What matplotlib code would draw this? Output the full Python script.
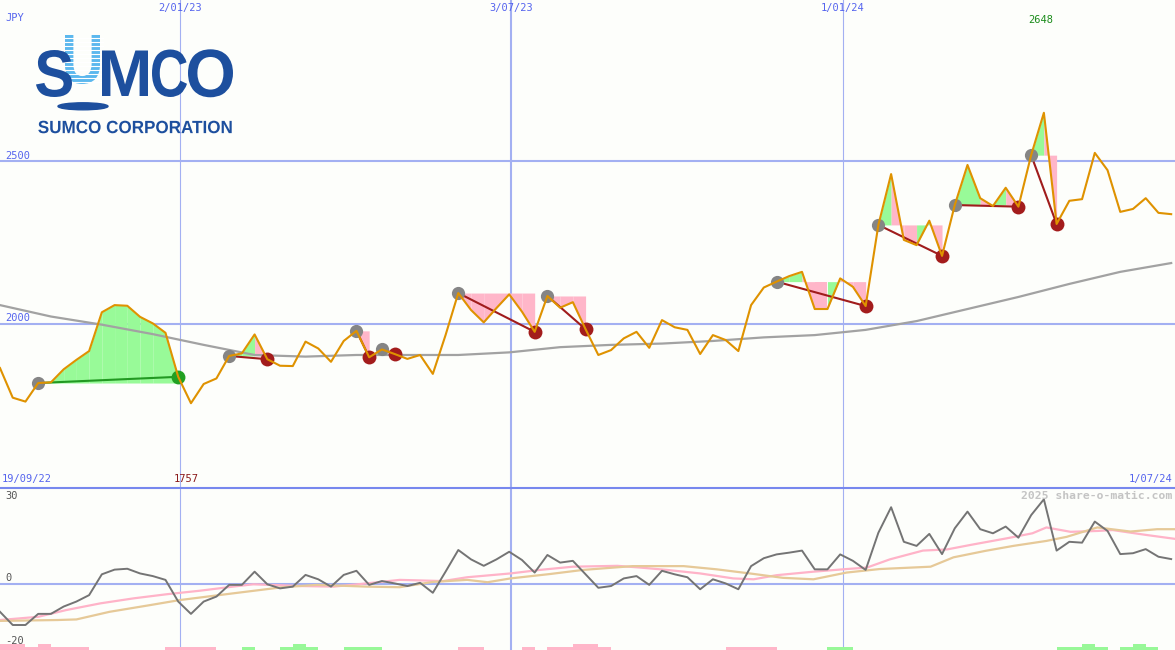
import numpy as np
import matplotlib.pyplot as plt
from matplotlib.patches import Ellipse, PathPatch
from matplotlib.lines import Line2D
from matplotlib.textpath import TextPath
from matplotlib.font_manager import FontProperties
from matplotlib.transforms import Affine2D

W, H = 1175, 650

# weekly closing price, JPY (19/09/22 .. 1/07/24)
price = [1865, 1774, 1762, 1819, 1821, 1861, 1890, 1917, 2036, 2058,
         2056, 2022, 2002, 1973, 1838, 1757, 1816, 1833, 1902, 1910,
         1968, 1892, 1872, 1871, 1946, 1925, 1884, 1948, 1979, 1898,
         1922, 1908, 1893, 1905, 1847, 1966, 2095, 2043, 2005, 2049,
         2091, 2038, 1976, 2086, 2050, 2067, 1984, 1905, 1920, 1956,
         1976, 1927, 2012, 1990, 1982, 1908, 1966, 1951, 1917, 2058,
         2112, 2130, 2147, 2160, 2046, 2046, 2140, 2114, 2055, 2304,
         2460, 2258, 2242, 2317, 2209, 2365, 2488, 2386, 2362, 2418,
         2360, 2518, 2648, 2307, 2378, 2383, 2525, 2472, 2344, 2353,
         2386, 2341, 2337]

# long moving average (gray), read at a few weeks
ma_week = [0, 4, 8, 12, 16, 20, 24, 28, 32, 36, 40, 44, 48, 52, 56, 60,
           64, 68, 72, 76, 80, 84, 88, 92]
ma_val = [2058, 2023, 1998, 1969, 1936, 1905, 1900, 1905, 1905, 1905,
          1913, 1929, 1936, 1940, 1948, 1959, 1966, 1982, 2009, 2046,
          2083, 2123, 2160, 2187]

# trades: (start week, end week)
trades = [(3, 14), (18, 21), (28, 29), (30, 31), (36, 42), (43, 46),
          (61, 68), (69, 74), (75, 80), (81, 83)]

# lower panel oscillator
osc = [-9.6, -14.1, -14.1, -10.3, -10.3, -7.8, -6.1, -3.9, 3.2, 4.8,
       5.1, 3.5, 2.6, 1.3, -6.1, -10.3, -6.1, -4.4, -0.4, -0.4,
       4.1, -0.2, -1.6, -1.0, 3.0, 1.5, -1.0, 3.0, 4.4, -0.4,
       0.9, 0.1, -0.8, 0.3, -3.1, 4.1, 11.5, 8.3, 6.1, 8.3,
       10.9, 8.1, 3.8, 9.8, 7.2, 7.8, 3.2, -1.4, -0.8, 1.8,
       2.6, -0.4, 4.4, 3.2, 2.2, -1.9, 1.5, 0.1, -1.9, 6.0,
       8.7, 10.0, 10.6, 11.3, 4.9, 4.9, 10.0, 7.8, 4.7, 17.4,
       26.1, 14.3, 12.9, 17.0, 10.1, 18.9, 24.6, 18.6, 17.2, 19.5,
       15.7, 23.4, 28.8, 11.3, 14.3, 14.0, 21.2, 18.0, 10.1, 10.4,
       11.8, 9.2, 8.4]

pink_week = [0, 3, 5.2, 7.9, 10.5, 13.1, 15.7, 18.3, 19.9, 23.6, 26.2,
             28.8, 31.4, 34.8, 36.7, 40.1, 42.4, 45, 48.5, 50.3, 52.4,
             55, 57.6, 59.2, 61, 63.9, 66.5, 68.1, 69.9, 72.5, 74.4,
             76.2, 79.1, 81.1, 82.2, 84.1, 86.2, 87.4, 90.1, 92.3]
pink_val = [-12.4, -11.3, -9.0, -6.7, -5.0, -3.6, -2.4, -1.0, -0.2, -0.8,
            -1.0, 0.1, 1.3, 0.9, 2.2, 3.5, 4.7, 5.8, 6.1, 5.5, 4.7,
            3.5, 1.8, 1.5, 2.9, 4.1, 5.0, 5.5, 8.3, 11.3, 11.7,
            13.2, 15.5, 17.2, 19.2, 17.7, 18.0, 18.3, 16.6, 15.3]

tan_week = [0, 4.5, 6, 8.6, 11.8, 14.1, 18.3, 22.2, 24.9, 28.8, 31.4,
            34, 36.7, 38.3, 40.1, 43.2, 45.8, 49.7, 53.7, 56.3, 58.9,
            61.5, 63.9, 66.5, 69.1, 73.1, 74.9, 77.4, 79.6, 82.2, 83.8,
            86.2, 88.8, 90.9, 92.3]
tan_val = [-12.7, -12.4, -12.2, -9.6, -7.3, -5.6, -3.3, -1.2, -0.4, -1.0,
           -1.2, 0.6, 1.3, 0.5, 1.8, 3.3, 4.7, 6.0, 6.0, 4.9, 3.5,
           2.0, 1.5, 3.8, 5.0, 5.8, 9.0, 11.2, 12.9, 14.6, 16.0,
           19.2, 17.8, 18.6, 18.6]

# bottom signal bars (-2..2 per week)
signal = [-2, -2, -1, -2, -1, -1, -1, 0, 0, 0, 0, 0, 0, -1, -1, -1, -1,
          0, 0, 1, 0, 0, 1, 2, 1, 0, 0, 1, 1, 1, 0, 0, 0, 0, 0, 0, -1,
          -1, 0, 0, 0, -1, 0, -1, -1, -2, -2, -1, 0, 0, 0, 0, 0, 0, 0,
          0, 0, -1, -1, -1, -1, 0, 0, 0, 0, 1, 1, 0, 0, 0, 0, 0, 0, 0,
          0, 0, 0, 0, 0, 0, 0, 0, 0, 1, 1, 2, 1, 0, 1, 2, 1, 0, 0]

date_marks = [14.14, 40.14, 66.22]
date_labels = ['2/01/23', '3/07/23', '1/01/24']

weeks = np.arange(len(price))
p = np.array(price, dtype=float)

fig = plt.figure(figsize=(W / 100, H / 100), dpi=100)
fig.patch.set_facecolor('#fdfefb')
ax = fig.add_axes([0, 1 - 487 / H, 1, 487 / H])
ax2 = fig.add_axes([0, 0, 1, 162 / H])
for a in (ax, ax2):
    a.set_facecolor('none')
    a.set_xlim(0, 92.3)
    for s in a.spines.values():
        s.set_visible(False)
    a.set_xticks([])
    a.set_yticks([])
ax.set_ylim(1500, 2994)
ax2.set_ylim(-22.63, 32.66)

grid = '#a3b0f2'
for lvl in (2000, 2500):
    ax.axhline(lvl, color=grid, lw=1.5, zorder=1)
ax2.axhline(0, color=grid, lw=1.5, zorder=1)
for m, lw in zip(date_marks, (0.8, 1.5, 0.8)):
    ax.axvline(m, color=grid, lw=lw, zorder=1)
    ax2.axvline(m, color=grid, lw=lw, zorder=1)
fig.add_artist(Line2D([0, 1], [1 - 487.5 / H] * 2, color='#7788ee', lw=1.5))

# trade fills, links and markers
green_fill, pink_fill = '#98fa98', '#ffb6c9'
for s, e in trades:
    lvl = p[s]
    for k in range(s, e):
        c = green_fill if p[k + 1] >= lvl else pink_fill
        ax.fill_between(weeks[k:k + 2], p[k:k + 2], lvl, color=c, lw=0, zorder=2)
    win = p[e] > p[s]
    lc = '#229922' if win else '#a01c1c'
    ax.plot([s, e], [p[s], p[e]], color=lc, lw=1.5, zorder=4)
    ax.plot(s, p[s], 'o', color='#858585', ms=9.5, mew=0, zorder=5)
    ax.plot(e, p[e], 'o', color='#22a022' if win else '#a31c1c', ms=10, mew=0, zorder=5)

ax.plot(ma_week, ma_val, color='#a2a2a2', lw=1.6, zorder=3)
ax.plot(weeks, p, color='#df9200', lw=1.5, zorder=6)

# lower panel
ax2.plot(pink_week, pink_val, color='#ffb3c8', lw=1.6, zorder=2)
ax2.plot(tan_week, tan_val, color='#e6c998', lw=1.6, zorder=2)
ax2.plot(weeks, osc, color='#747474', lw=1.4, zorder=3)
sig = np.array(signal)
unit = 3 / 2.93
ax2.bar(weeks, np.abs(sig) * unit, width=1, align='edge', bottom=-22.63,
        color=['#98f898' if v > 0 else '#ffb6c9' for v in sig], lw=0, zorder=1)


def px(x, y):
    return x / W, 1 - y / H


mono = 'DejaVu Sans Mono'
blue = '#5564ee'
fig.text(*px(5, 18), 'JPY', family=mono, fontsize=7.5, color=blue, va='center')
for m, lab in zip(date_marks, date_labels):
    fig.text(*px(m * 12.73, 8), lab, family=mono, fontsize=7.5, color=blue,
             ha='center', va='center')
fig.text(*px(1041, 20), '2648', family=mono, fontsize=7.5, color='#1a8c1a',
         ha='center', va='center')
fig.text(*px(5, 156), '2500', family=mono, fontsize=7.5, color=blue, va='center')
fig.text(*px(5, 318), '2000', family=mono, fontsize=7.5, color=blue, va='center')
fig.text(*px(2, 479), '19/09/22', family=mono, fontsize=7.5, color=blue, va='center')
fig.text(*px(186, 479), '1757', family=mono, fontsize=7.5, color='#8b1a1a',
         ha='center', va='center')
fig.text(*px(1172, 479), '1/07/24', family=mono, fontsize=7.5, color=blue,
         ha='right', va='center')
fig.text(*px(5, 496), '30', family=mono, fontsize=7.5, color='#555555', va='center')
fig.text(*px(5, 578), '0', family=mono, fontsize=7.5, color='#555555', va='center')
fig.text(*px(5, 641), '-20', family=mono, fontsize=7.5, color='#555555', va='center')
fig.text(*px(1172, 496), '2025 share-o-matic.com', family=mono, fontsize=8.2,
         weight='bold', color='#c4c4c4', ha='right', va='center')

# logo: glyph outlines fitted into their boxes (pixels from top-left)
navy = '#1d4f9e'
fp = FontProperties(family='Liberation Sans', weight='bold')


def glyph(s, x0, x1, y0, y1, color, z):
    tp = TextPath((0, 0), s, size=100, prop=fp)
    bb = tp.get_extents()
    tr = (Affine2D().translate(-bb.x0, -bb.y0)
          .scale((x1 - x0) / bb.width, (y1 - y0) / bb.height)
          .translate(x0, H - y1).scale(1 / W, 1 / H) + fig.transFigure)
    fig.add_artist(PathPatch(tp, transform=tr, facecolor=color, lw=0, zorder=z))


glyph('U', 65, 100, 35, 84, '#5cb8ee', 3)
for yy in np.arange(38, 84, 4):
    fig.add_artist(Line2D([62 / W, 103 / W], [1 - yy / H] * 2, color='white',
                          lw=0.8, zorder=3.5))
glyph('S', 36, 72, 50, 97, navy, 4)
glyph('M', 102, 148, 50.5, 96, navy, 4)
glyph('C', 152, 187, 49.5, 97, navy, 4)
glyph('O', 188, 233, 49.3, 97.3, navy, 4)
fig.add_artist(Ellipse(px(83, 106.3), 50 / W, 7 / H, color=navy, transform=fig.transFigure))
glyph('SUMCO CORPORATION', 38.3, 231.7, 120.7, 133.3, navy, 4)

fig.savefig('out.png', dpi=100, facecolor=fig.get_facecolor())
